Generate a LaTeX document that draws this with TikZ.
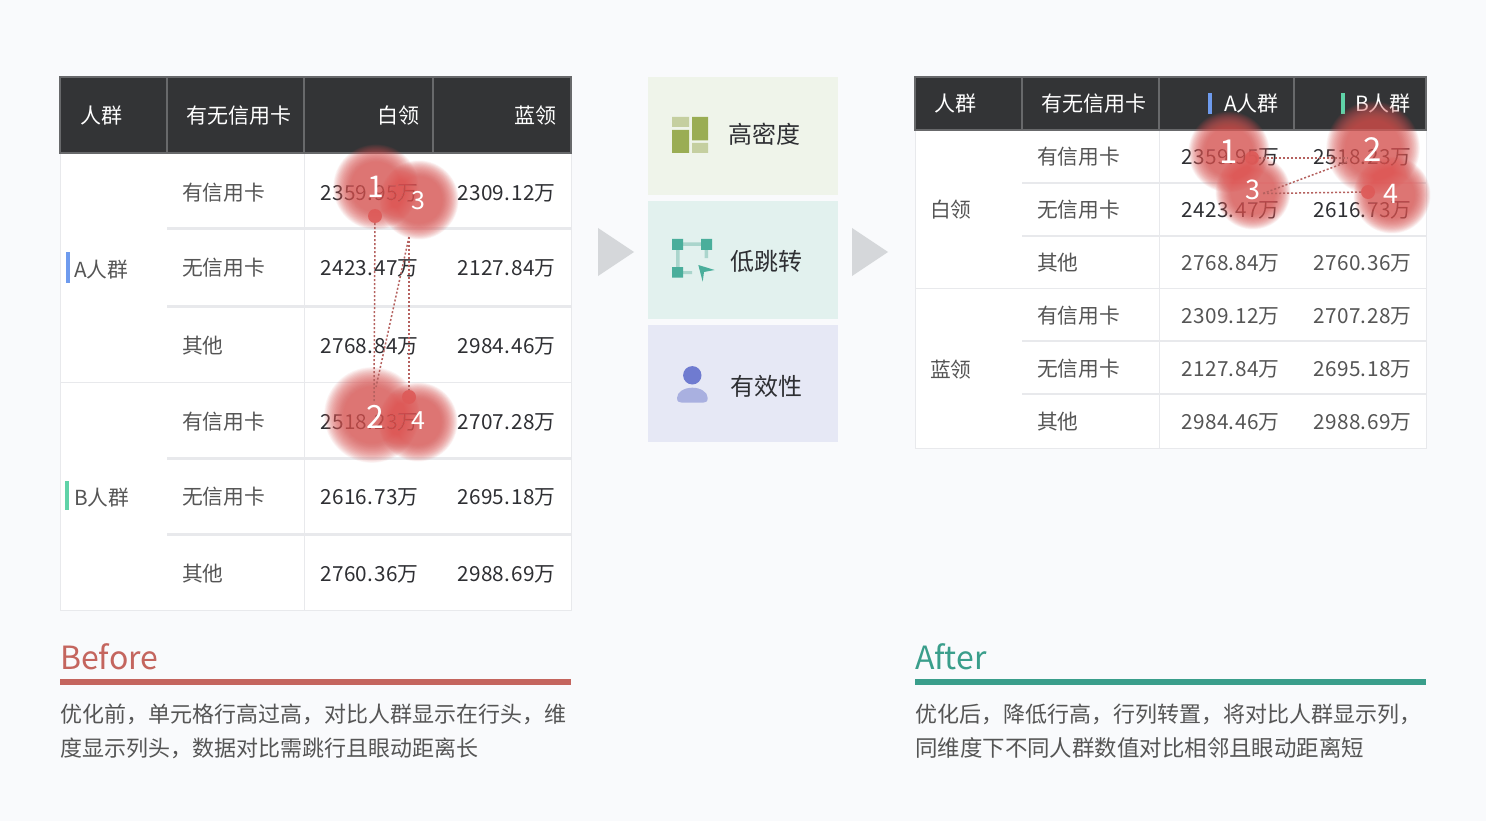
\documentclass[tikz,border=0pt]{standalone}
\usepackage{fontspec}
\setmainfont{Noto Sans CJK SC}
\newfontfamily\numfont[LetterSpace=2]{Noto Sans CJK SC}
\definecolor{pagebg}{HTML}{F9FAFC}
\definecolor{headbg}{HTML}{333436}
\definecolor{headline}{HTML}{68696B}
\definecolor{rowline}{HTML}{E8E9EC}
\definecolor{cellink}{HTML}{2E2F33}
\definecolor{labelink}{HTML}{555555}
\definecolor{barA}{HTML}{6E9BEE}
\definecolor{barB}{HTML}{5FD3A8}
\definecolor{heat}{HTML}{DD5A58}
\definecolor{linkred}{HTML}{B5615F}
\definecolor{beforered}{HTML}{C4655E}
\definecolor{aftergreen}{HTML}{3A9E8B}
\definecolor{arrowgray}{HTML}{D5D7DA}
\tikzset{
  txt/.style={inner sep=0pt,text height=16pt,text depth=0pt},
  headtxt/.style={txt,white,font=\fontsize{21}{21}\selectfont},
  rowtxt/.style={txt,labelink,anchor=west,font=\fontsize{20.75}{21}\selectfont},
  numtxt/.style={txt,cellink,anchor=west,font=\numfont\fontsize{20.75}{21}\selectfont},
  heatnum/.style={inner sep=0pt,white,font=\fontsize{#1}{#1}\selectfont},
  heatdot/.style={circle,fill=heat,inner sep=0pt,minimum size=14pt,fill opacity=.9},
  linkdot/.style={linkred,line width=1.5pt,dash pattern=on 2pt off 2pt},
  desc/.style={txt,labelink,anchor=west,font=\fontsize{22}{22}\selectfont},
  midtxt/.style={txt,cellink,anchor=west,font=\fontsize{24}{24}\selectfont},
  title/.style={anchor=base west,inner sep=0pt,font=\fontsize{32}{32}\selectfont},
}
\newcommand\heatblob[3]{%
  \foreach \k in {0,...,29}
    \fill[heat,fill opacity=.05] (#1,#2) circle({#3*(.62+.0145*\k)});
}
\begin{document}
\begin{tikzpicture}[x=1pt,y=-1pt]
  \useasboundingbox (0,0) rectangle (1486,821);
  \fill[pagebg] (0,0) rectangle (1486,821);

  % left table
  \fill[white] (60,153) rectangle (571,610);
  \foreach \y in {229,306,458,534}
    \draw[rowline,line width=3pt] (167,\y) -- (571,\y);
  \draw[rowline,line width=1pt] (60,382) -- (571,382);
  \draw[rowline,line width=1pt] (60,153) rectangle (571,610) (304,153) -- (304,610);
  \fill[headbg] (60,77) rectangle (571,153);
  \draw[headline,line width=2pt] (60,77) rectangle (571,153) (167,77) -- (167,153) (304,77) -- (304,153) (433,77) -- (433,153);
  \node[headtxt,anchor=west] (lh1) at (80,116) {人群};
  \node[headtxt,anchor=west] (lh2) at (186,116) {有无信用卡};
  \node[headtxt,anchor=east] (lh3) at (420,116) {白领};
  \node[headtxt,anchor=east] (lh4) at (557,116) {蓝领};
  \fill[barA] (66,252) rectangle (70,283);
  \fill[barB] (65,481) rectangle (69,510);
  \node[rowtxt] (lgA) at (74,269) {A人群};
  \node[rowtxt] (lgB) at (74,497) {B人群};
  \foreach \r/\y/\lab/\a/\b in {1/193/有信用卡/2359.95/2309.12,2/268/无信用卡/2423.47/2127.84,3/345/其他/2768.84/2984.46,
                                4/421/有信用卡/2518.23/2707.28,5/496/无信用卡/2616.73/2695.18,6/573/其他/2760.36/2988.69}{
    \node[rowtxt] (lr\r) at (182,\y) {\lab};
    \node[numtxt] (la\r) at (320,\y) {\a 万};
    \node[numtxt] (lb\r) at (457,\y) {\b 万};
  }

  % right table
  \fill[white] (915,130) rectangle (1426,449);
  \foreach \y in {183,236,341,394}
    \draw[rowline,line width=2.5pt] (1022,\y) -- (1426,\y);
  \draw[rowline,line width=1pt] (915,288) -- (1426,288);
  \draw[rowline,line width=1pt] (915,130) -- (915,448) -- (1426,448) -- (1426,130) (1159,130) -- (1159,448);
  \fill[headbg] (915,77) rectangle (1426,130);
  \draw[headline,line width=2pt] (915,77) rectangle (1426,130) (1022,77) -- (1022,130) (1159,77) -- (1159,130) (1294,77) -- (1294,130);
  \node[headtxt,anchor=west] (rh1) at (934,104) {人群};
  \node[headtxt,anchor=west] (rh2) at (1041,104) {有无信用卡};
  \node[headtxt,anchor=east] (rh3) at (1279,104) {A人群};
  \node[headtxt,anchor=east] (rh4) at (1411,104) {B人群};
  \fill[barA] (1208,93) rectangle (1212,114);
  \fill[barB] (1341,93) rectangle (1345,114);
  \node[rowtxt] (rgA) at (930,210) {白领};
  \node[rowtxt] (rgB) at (930,369) {蓝领};
  \foreach \r/\y/\lab/\a/\b/\ink in {1/157/有信用卡/2359.95/2518.23/cellink,2/210/无信用卡/2423.47/2616.73/cellink,3/262/其他/2768.84/2760.36/labelink,
                                4/315/有信用卡/2309.12/2707.28/labelink,5/368/无信用卡/2127.84/2695.18/labelink,6/421/其他/2984.46/2988.69/labelink}{
    \node[rowtxt] (rr\r) at (1037,\y) {\lab};
    \node[numtxt,\ink] (ra\r) at (1181,\y) {\a 万};
    \node[numtxt,\ink] (rb\r) at (1313,\y) {\b 万};
  }

  % middle
  \fill[color={rgb,255:red,239;green,244;blue,234}] (648,77) rectangle (838,195);
  \fill[color={rgb,255:red,226;green,241;blue,238}] (648,201) rectangle (838,319);
  \fill[color={rgb,255:red,230;green,232;blue,245}] (648,325) rectangle (838,442);
  \fill[arrowgray] (598,228) -- (634,252) -- (598,276) -- cycle;
  \fill[arrowgray] (852,228) -- (888,252) -- (852,276) -- cycle;
  % density icon
  \fill[color={rgb,255:red,197;green,207;blue,160}] (672,117) rectangle (689,127) (692,143) rectangle (708,153);
  \fill[color={rgb,255:red,154;green,173;blue,84}] (672,130) rectangle (689,153) (692,117) rectangle (708,140.5);
  \node[midtxt] (mid1) at (728,136) {高密度};
  % jump icon
  \fill[color={rgb,255:red,170;green,213;blue,204}] (683,242.5) rectangle (701,246) (676,250) rectangle (679.5,267) (704.7,250) rectangle (708,258) (683,271) rectangle (692,274);
  \fill[color={rgb,255:red,74;green,174;blue,155}] (672,239) rectangle (683,250) (701,239) rectangle (712,250) (672,267) rectangle (683,277.5);
  \fill[color={rgb,255:red,74;green,174;blue,155}] (698.3,265) -- (714.7,270) -- (704,272) -- (702.7,281.7) -- cycle;
  \node[midtxt] (mid2) at (730,262) {低跳转};
  % person icon
  \fill[color={rgb,255:red,169;green,176;blue,224}] (677,398) arc(180:360:15.35 and 10.3) .. controls (707.7,401.5) and (706,402.7) .. (703,402.7) -- (682,402.7) .. controls (679,402.7) and (677,401.5) .. (677,398) -- cycle;
  \fill[color={rgb,255:red,111;green,123;blue,208}] (692.3,375.3) circle(9.2);
  \node[midtxt] (mid3) at (730,387) {有效性};

  % left heat
  \heatblob{376}{187}{41}
  \heatblob{419}{200}{38}
  \heatblob{372}{415}{46}
  \heatblob{418}{422}{38}
  \node[heatdot] (ldot1) at (375,216) {};
  \node[heatdot] (ldot4) at (409,397) {};
  \node[heatnum=30] (ln1) at (376,187) {1};
  \node[heatnum=32] (ln2) at (375,417) {2};
  \node[heatnum=25] (ln3) at (418,201) {3};
  \node[heatnum=25] (ln4) at (418,421) {4};
  \coordinate (lend2) at (374,402);
  \coordinate (lend2b) at (376,387);
  \coordinate (lstart3) at (409,237);
  \draw[linkdot] (ldot1) -- (lend2);
  \draw[linkdot] (lstart3) -- (lend2b);
  \draw[linkdot] (lstart3) -- (ldot4);

  % right heat
  \heatblob{1229}{152}{39}
  \heatblob{1253}{192}{36}
  \heatblob{1373}{148}{45}
  \heatblob{1392}{195}{37}
  \node[heatdot] (rdot1) at (1252,158) {};
  \node[heatdot] (rdot4) at (1368,192) {};
  \node[heatnum=33] (rn1) at (1229,152) {1};
  \node[heatnum=33] (rn2) at (1373,150) {2};
  \node[heatnum=27] (rn3) at (1253,190) {3};
  \node[heatnum=27] (rn4) at (1391,194) {4};
  \coordinate (rend2) at (1348,158);
  \coordinate (rend2b) at (1347,162);
  \coordinate (rstart3) at (1263,193.5);
  \draw[linkdot] (rdot1) -- (rend2);
  \draw[linkdot] (rstart3) -- (rend2b);
  \draw[linkdot] (rstart3) -- (rdot4);

  % captions
  \node[title,beforered] (before) at (60,669) {Before};
  \fill[beforered] (60,679) rectangle (571,685);
  \node[desc] (bl1) at (60,714) {优化前，单元格行高过高，对比人群显示在行头，维};
  \node[desc] (bl2) at (60,748) {度显示列头，数据对比需跳行且眼动距离长};
  \node[title,aftergreen] (after) at (915,669) {After};
  \fill[aftergreen] (915,679) rectangle (1426,685);
  \node[desc] (al1) at (915,714) {优化后，降低行高，行列转置，将对比人群显示列，};
  \node[desc,font=\fontsize{22.45}{22}\selectfont] (al2) at (915,748) {同维度下不同人群数值对比相邻且眼动距离短};
\end{tikzpicture}
\end{document}
